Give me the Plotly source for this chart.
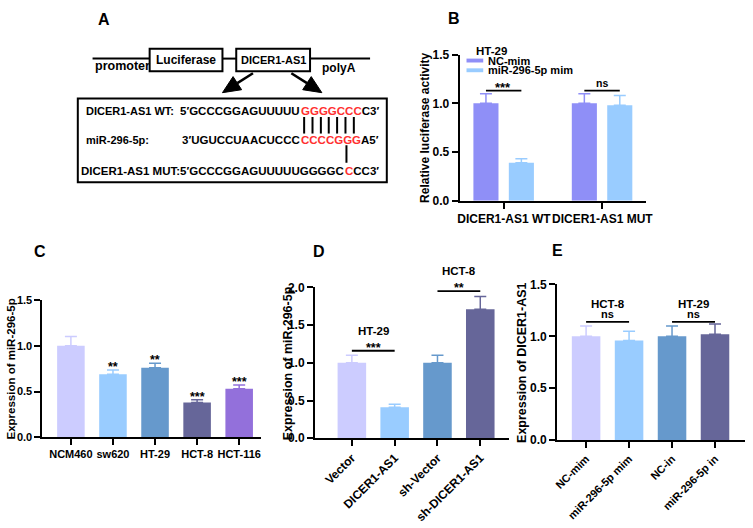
import math
import plotly.graph_objects as go

W, H = 753, 528
FONT = "Liberation Sans, Arial, Helvetica, sans-serif"

# ---------------- data ----------------
# Panel B: luciferase reporter
b_categories = ["DICER1-AS1 WT", "DICER1-AS1 MUT"]
b_series_names = ["NC-mim", "miR-296-5p mim"]
b_nc_mim = [1.00, 1.00]
b_nc_mim_err = [0.10, 0.10]
b_mir_mim = [0.39, 0.98]
b_mir_mim_err = [0.04, 0.10]
b_sig = ["***", "ns"]
b_legend_title = "HT-29"

# Panel C: miR-296-5p expression in cell lines
c_categories = ["NCM460", "sw620", "HT-29", "HCT-8", "HCT-116"]
c_values = [1.00, 0.69, 0.76, 0.38, 0.53]
c_errors = [0.10, 0.045, 0.05, 0.03, 0.04]
c_sig = ["", "**", "**", "***", "***"]

# Panel D
d_categories = ["Vector", "DICER1-AS1", "sh-Vector", "sh-DICER1-AS1"]
d_values = [1.00, 0.41, 1.00, 1.71]
d_errors = [0.10, 0.04, 0.10, 0.17]
d_groups = ["HT-29", "HCT-8"]
d_sig = ["***", "**"]
d_sig_levels = [1.16, 1.95]

# Panel E
e_categories = ["NC-mim", "miR-296-5p mim", "NC-in", "miR-296-5p in"]
e_values = [1.00, 0.96, 1.00, 1.02]
e_errors = [0.10, 0.09, 0.10, 0.10]
e_groups = ["HCT-8", "HT-29"]
e_sig = ["ns", "ns"]
e_sig_levels = [1.14, 1.14]

# ---------------- styles ----------------
b_colors = ["#8F8FF7", "#99CCFF"]
pal = ["#CCCCFF", "#99CCFF", "#6699CC", "#666699", "#9370DB"]


def X(px):
    return px / W


def Y(py):
    return 1 - py / H


fig = go.Figure()

# ---- Panel B traces ----
b_offsets = [-0.31, 0.05]
for name, vals, errs, col, off in zip(b_series_names, [b_nc_mim, b_mir_mim],
                                      [b_nc_mim_err, b_mir_mim_err], b_colors, b_offsets):
    fig.add_trace(go.Bar(
        x=b_categories, y=vals, name=name, width=0.255, offset=off,
        marker=dict(color=col, line=dict(width=0)),
        error_y=dict(type="data", array=errs, arrayminus=[0] * len(errs), symmetric=False,
                     color=col, thickness=1.5, width=6),
        xaxis="x", yaxis="y", showlegend=False))


def add_single_bars(cats, vals, errs, xa, ya, width):
    for i, (c, v, e) in enumerate(zip(cats, vals, errs)):
        col = pal[i % len(pal)]
        fig.add_trace(go.Bar(
            x=[c], y=[v], width=width, offset=-width / 2,
            marker=dict(color=col, line=dict(width=0)),
            error_y=dict(type="data", array=[e], arrayminus=[0], symmetric=False,
                         color=col, thickness=1.5, width=6),
            xaxis=xa, yaxis=ya, showlegend=False))


add_single_bars(c_categories, c_values, c_errors, "x2", "y2", 0.655)
add_single_bars(d_categories, d_values, d_errors, "x3", "y3", 0.667)
add_single_bars(e_categories, e_values, e_errors, "x4", "y4", 0.664)


def yax(domain, rng, anchor, size=12):
    return dict(domain=domain, range=rng, anchor=anchor, showline=True, linecolor="black",
                linewidth=2, ticks="outside", ticklen=6, tickwidth=2, tickcolor="black",
                tick0=0, dtick=0.5, tickformat=".1f", showgrid=False, zeroline=False,
                tickfont=dict(family=FONT, size=size, color="black", weight="bold"))


def xax(domain, rng, anchor, cats, size, angle=0):
    return dict(domain=domain, range=rng, anchor=anchor, type="category",
                categoryorder="array", categoryarray=cats, showline=True, linecolor="black",
                linewidth=2, ticks="outside", ticklen=6, tickwidth=2, tickcolor="black",
                showgrid=False, zeroline=False, tickangle=angle,
                tickfont=dict(family=FONT, size=size, color="black", weight="bold"))


layout = dict(
    width=W, height=H, margin=dict(l=0, r=0, t=0, b=0),
    paper_bgcolor="white", plot_bgcolor="white", barmode="overlay", showlegend=False,
    font=dict(family=FONT, color="black"),
    xaxis=xax([X(463), X(652)], [-0.45, 1.44], "y", b_categories, 12),
    yaxis=yax([Y(199), Y(49)], [0, 1.5], "x", 12),
    xaxis2=xax([X(39), X(261)], [-0.678, 4.515], "y2", c_categories, 11),
    yaxis2=yax([Y(442), Y(301)], [0, 1.5], "x2", 11),
    xaxis3=xax([X(316), X(513)], [-0.862, 3.667], "y3", d_categories, 12, -45),
    yaxis3=yax([Y(443), Y(288)], [0, 2.0], "x3", 12),
    xaxis4=xax([X(562), X(753)], [-0.676, 3.698], "y4", e_categories, 11, -45),
    yaxis4=yax([Y(445), Y(285)], [0, 1.5], "x4", 12),
)
fig.update_layout(**layout)

shapes = []
ann = []


def text(x, y, s, size=11, xanchor="center", yanchor="middle", angle=0, color="black",
         xref="paper", yref="paper", yshift=0):
    ann.append(dict(x=x, y=y, xref=xref, yref=yref, text=s, showarrow=False,
                    xanchor=xanchor, yanchor=yanchor, textangle=angle, yshift=yshift,
                    borderpad=0,
                    font=dict(family=FONT, size=size, color=color, weight="bold")))


def pline(x0, y0, x1, y1, w=2):
    shapes.append(dict(type="line", xref="paper", yref="paper", x0=X(x0), y0=Y(y0),
                       x1=X(x1), y1=Y(y1), line=dict(color="black", width=w)))


def prect(x0, y0, x1, y1, w=2, fill=None):
    shapes.append(dict(type="rect", xref="paper", yref="paper", x0=X(x0), y0=Y(y0),
                       x1=X(x1), y1=Y(y1), line=dict(color="black", width=w if fill is None else 0),
                       fillcolor=fill if fill else "rgba(0,0,0,0)"))


def arrow(sx, sy, tx, ty, hl=18, hw=8, w=2.5):
    dx, dy = tx - sx, ty - sy
    L = math.hypot(dx, dy)
    ux, uy = dx / L, dy / L
    bx, by = tx - hl * ux, ty - hl * uy
    nx, ny = -uy, ux
    pline(sx, sy, bx, by, w)
    p = "M {},{} L {},{} L {},{} Z".format(X(tx), Y(ty), X(bx + hw * nx), Y(by + hw * ny),
                                           X(bx - hw * nx), Y(by - hw * ny))
    shapes.append(dict(type="path", xref="paper", yref="paper", path=p,
                       fillcolor="black", line=dict(color="black", width=1)))


# ---------------- Panel A diagram ----------------
pline(90, 53, 148, 53)
pline(222, 53, 236, 53)
pline(311, 53, 372, 53)
prect(148, 43, 222, 66)
prect(236, 43, 311, 66)
text(X(185), Y(54), "Luciferase", 12)
text(X(273.5), Y(54), "DICER1-AS1", 11)
text(X(120), Y(61), "promoter", 12.5)
text(X(340.5), Y(63), "polyA", 12)
arrow(253, 68, 222, 88)
arrow(292, 68, 323, 88)
prect(75, 94, 389, 180)

RED = "#FF3030"
SEQ = 11.5
text(X(82), Y(107), "DICER1-AS1 WT:", 11, "left")
text(X(302), Y(107), "5′GCCCGGAGUUUUU", SEQ, "right")
text(X(301), Y(107), "<span style='color:%s'>GGGGCCC</span>C3′" % RED, SEQ, "left")
text(X(82), Y(137), "miR-296-5p:", 11, "left")
text(X(302), Y(137), "3′UGUCCUAACUCCC", SEQ, "right")
text(X(301), Y(137), "<span style='color:%s'>CCCCGGG</span>A5′" % RED, SEQ, "left")
text(X(347), Y(168), "DICER1-AS1 MUT:5′GCCCGGAGUUUUUGGGGC", SEQ, "right")
text(X(346), Y(168), "<span style='color:%s'>C</span>CC3′" % RED, SEQ, "left")
for xv in [305, 313.5, 322, 330, 338.5, 347, 355.5]:
    pline(xv, 113, xv, 130, 2)
pline(348, 142, 348, 160, 2)

# ---------------- panel letters ----------------
for lab, (lx, ly) in zip("ABCDE", [(102, 13), (457, 12), (37, 251), (320, 251), (562, 250)]):
    text(X(lx), Y(ly), lab, 16)

# ---------------- y titles ----------------
text(X(428), Y(124), "Relative luciferase activity", 12, angle=-90)
text(X(7), Y(371.5), "Expression of miR-296-5p", 11.5, angle=-90)
text(X(288), Y(365.5), "Expression of miR-296-5p", 12.5, angle=-90)
text(X(527), Y(365), "Expression of DICER1-AS1", 12.5, angle=-90)

# ---------------- B legend ----------------
text(X(479), Y(45), b_legend_title, 11.5, "left")
for i, (nm, col) in enumerate(zip(b_series_names, b_colors)):
    yy = 55 + 10 * i
    prect(470, yy - 2, 487, yy + 2, fill=col)
    text(X(491), Y(yy), nm, 11, "left")

# ---------------- significance ----------------
def sig_line(xref, yref, x0, x1, y):
    shapes.append(dict(type="line", xref=xref, yref=yref, x0=x0, x1=x1, y0=y, y1=y,
                       line=dict(color="black", width=1.8)))


# B: lines between bar centres of each group
for i, s in enumerate(b_sig):
    x0 = i - 0.31 + 0.1275
    x1 = i + 0.05 + 0.1275
    sig_line("x", "y", x0, x1, 1.13)
    if "*" in s:
        text(i - 0.005, 1.13, s, 13, yanchor="bottom", xref="x", yref="y", yshift=-5)
    else:
        text(i - 0.005, 1.13, s, 10.5, yanchor="bottom", xref="x", yref="y", yshift=1)

# C: stars above error bars
for i, s in enumerate(c_sig):
    if s:
        text(i, c_values[i] + c_errors[i], s, 12.5, yanchor="bottom", xref="x2", yref="y2",
             yshift=-5)

# D
for g, (grp, s, lvl) in enumerate(zip(d_groups, d_sig, d_sig_levels)):
    sig_line("x3", "y3", 2 * g, 2 * g + 1, lvl)
    text(2 * g + 0.5, lvl, s, 12.5, yanchor="bottom", xref="x3", yref="y3", yshift=-5)
    text(2 * g + 0.5, lvl, grp, 11.5, yanchor="bottom", xref="x3", yref="y3", yshift=13)

# E
for g, (grp, s, lvl) in enumerate(zip(e_groups, e_sig, e_sig_levels)):
    sig_line("x4", "y4", 2 * g, 2 * g + 1, lvl)
    text(2 * g + 0.5, lvl, s, 11, yanchor="bottom", xref="x4", yref="y4", yshift=1)
    text(2 * g + 0.5, lvl, grp, 11.5, yanchor="bottom", xref="x4", yref="y4", yshift=11)

fig.update_layout(shapes=shapes, annotations=ann)
fig.write_html("out.html", config={"displayModeBar": False},
               post_script="document.body.style.margin='0';document.body.style.overflow='hidden';")
